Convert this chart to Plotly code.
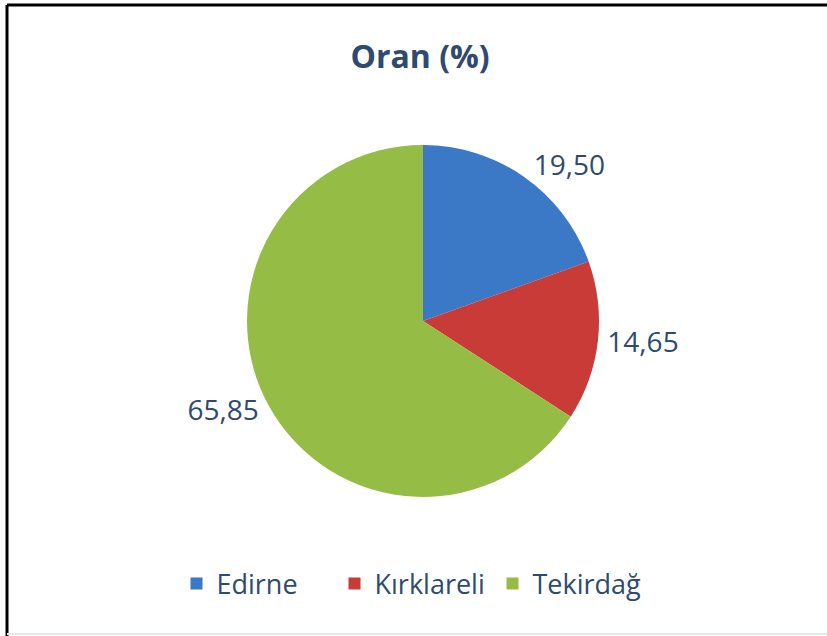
import plotly.graph_objects as go

categories = ["Edirne", "Kırklareli", "Tekirdağ"]
values = [19.50, 14.65, 65.85]
value_labels = ["19,50", "14,65", "65,85"]
colors = ["#3b78c6", "#c93b37", "#95bd46"]

W, H = 827, 636
cx, cy, r = 423, 321, 176
text_color = "#2e4a70"

fig = go.Figure(go.Pie(
    labels=categories,
    values=values,
    text=value_labels,
    texttemplate="%{text}",
    textinfo="text",
    textposition="outside",
    sort=False,
    direction="clockwise",
    rotation=0,
    marker=dict(colors=colors, line=dict(width=0)),
    outsidetextfont=dict(size=28, color=text_color, family="Open Sans"),
    domain=dict(x=[(cx - r) / W, (cx + r) / W], y=[1 - (cy + r) / H, 1 - (cy - r) / H]),
    hoverinfo="label+value",
))

fig.update_layout(
    width=W, height=H,
    margin=dict(l=0, r=0, t=0, b=0),
    paper_bgcolor="white",
    plot_bgcolor="white",
    title=dict(text="<b>Oran (%)</b>", x=0.508, xanchor="center", y=1 - 57 / H, yanchor="middle",
               font=dict(size=32, color=text_color, family="Open Sans")),
    legend=dict(orientation="h", x=0.5, xanchor="center", y=1 - 584 / H, yanchor="middle",
                font=dict(size=27, color=text_color, family="Open Sans"), itemwidth=30,
                entrywidth=113, entrywidthmode="pixels"),
    shapes=[
        dict(type="line", xref="paper", yref="paper", x0=7 / W, x1=1, y0=1 - 5 / H, y1=1 - 5 / H,
             line=dict(color="black", width=3)),
        dict(type="line", xref="paper", yref="paper", x0=7 / W, x1=7 / W, y0=0, y1=1 - 5 / H,
             line=dict(color="black", width=3)),
        dict(type="line", xref="paper", yref="paper", x0=7 / W, x1=1, y0=2 / H, y1=2 / H,
             line=dict(color="#e4e8ee", width=2)),
    ],
)

fig.write_html("out.html", config={"displayModeBar": False},
               post_script="document.body.style.margin='0px';document.body.style.overflow='hidden';")
